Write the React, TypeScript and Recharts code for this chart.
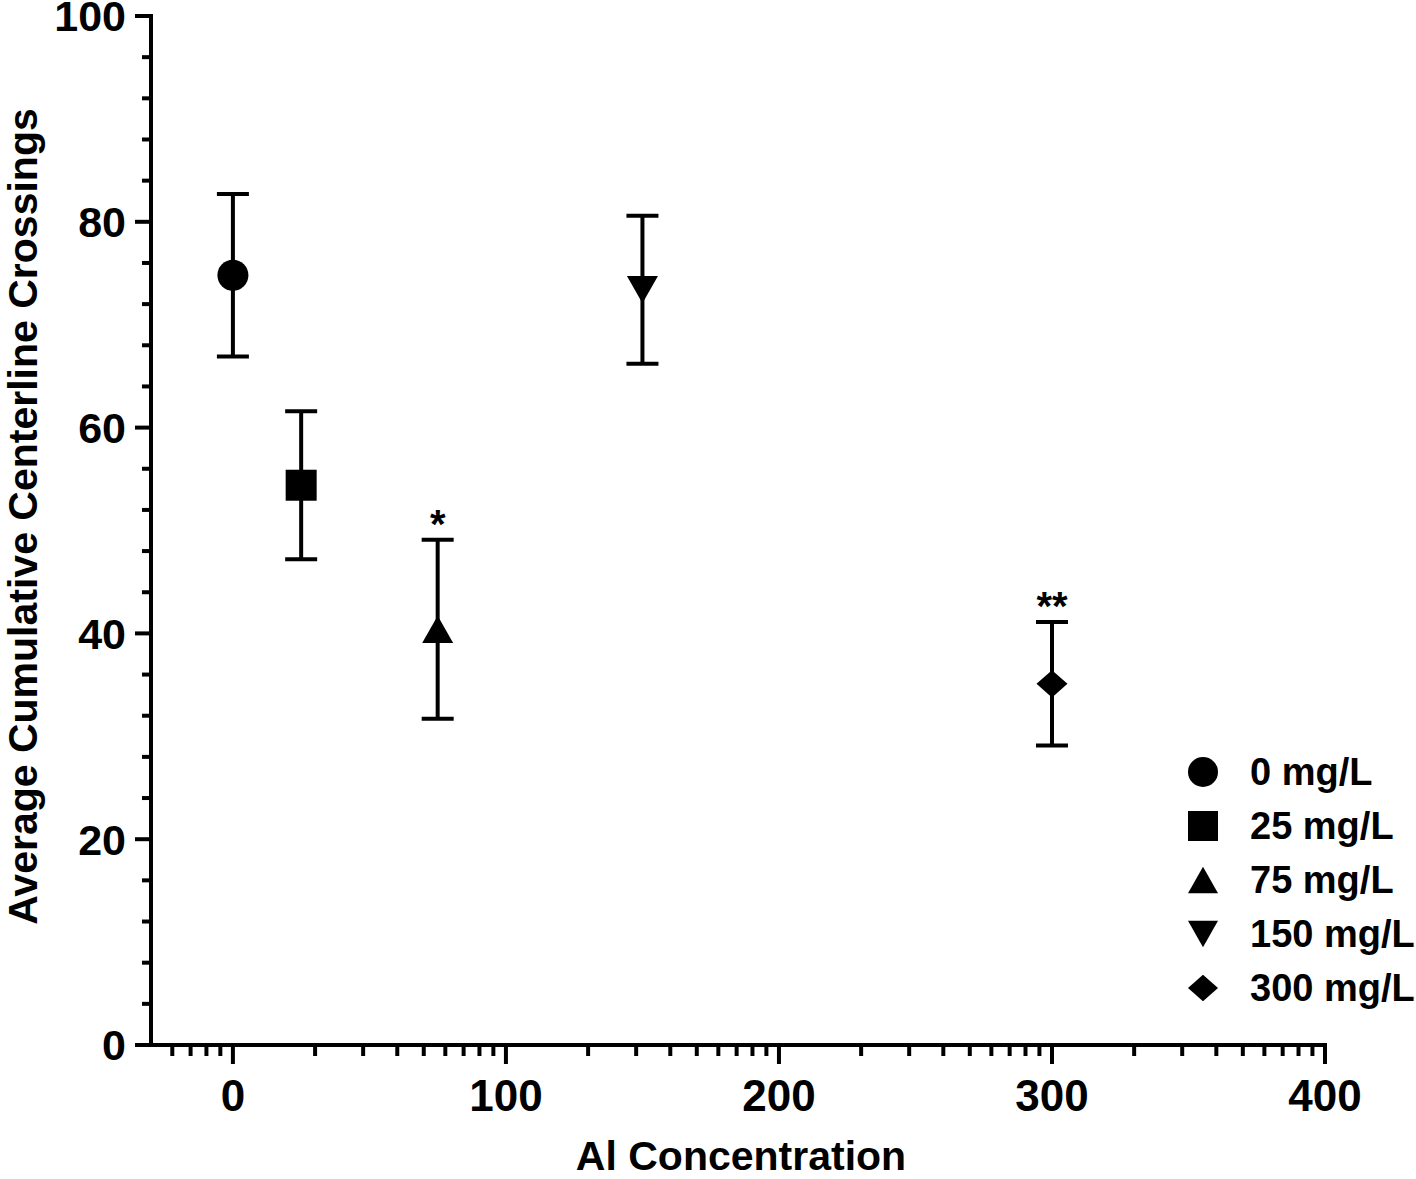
import React from 'react';
import { ScatterChart, Scatter, XAxis, YAxis, ErrorBar, Legend, ReferenceDot } from 'recharts';

const FONT = '"Liberation Sans", Arial, Helvetica, sans-serif';

// one group per Al concentration (mg/L)
const GROUPS = ['0 mg/L', '25 mg/L', '75 mg/L', '150 mg/L', '300 mg/L'];
const CONCENTRATIONS = [0, 25, 75, 150, 300];
const MEANS = [74.8, 54.4, 40.4, 73.4, 35.1];
const SEMS = [7.9, 7.2, 8.7, 7.2, 6.0];
const SIGNIFICANCE = ['', '', '*', '', '**'];
const SHAPES = ['circle', 'square', 'triangle', 'triangleDown', 'diamond'];

const X_MAJOR_TICKS = [0, 100, 200, 300, 400];
// log10(2..9) * 100, the odd minor ticks Prism put on this axis
const X_MINOR_STEPS = [30.1, 47.7, 60.2, 69.9, 77.8, 84.5, 90.3, 95.4];
const X_DOMAIN: [number, number] = [-30, 400];
const Y_MAJOR_TICKS = [0, 20, 40, 60, 80, 100];
const Y_MINOR_STEP = 4;

const xTicks: number[] = [...X_MAJOR_TICKS];
[-100, 0, 100, 200, 300].forEach((base) => {
  X_MINOR_STEPS.forEach((s) => {
    const v = base + s;
    if (v > X_DOMAIN[0] && v < X_DOMAIN[1]) xTicks.push(v);
  });
});
xTicks.sort((a, b) => a - b);

const yTicks: number[] = [];
for (let v = 0; v <= 100; v += Y_MINOR_STEP) yTicks.push(v);

function Marker({ shape, cx, cy, size = 31 }: { shape: string; cx: number; cy: number; size?: number }) {
  const h = size / 2;
  const t = size * 0.44;
  switch (shape) {
    case 'circle':
      return <circle cx={cx} cy={cy} r={h} fill="#000" />;
    case 'square':
      return <rect x={cx - h} y={cy - h} width={size} height={size} fill="#000" />;
    case 'triangle':
      return <polygon points={`${cx},${cy - t} ${cx + h},${cy + t} ${cx - h},${cy + t}`} fill="#000" />;
    case 'triangleDown':
      return <polygon points={`${cx},${cy + t} ${cx + h},${cy - t} ${cx - h},${cy - t}`} fill="#000" />;
    default:
      return <polygon points={`${cx},${cy - t} ${cx + h},${cy} ${cx},${cy + t} ${cx - h},${cy}`} fill="#000" />;
  }
}

const XTick = (props: any) => {
  const { x, y, payload } = props;
  const major = X_MAJOR_TICKS.includes(payload.value);
  return (
    <g>
      <line x1={x} x2={x} y1={y} y2={y + (major ? 19 : 11)} stroke="#000" strokeWidth={4} />
      {major && (
        <text x={x} y={y + 66} textAnchor="middle" fontFamily={FONT} fontWeight={700} fontSize={44} fill="#000">
          {payload.value}
        </text>
      )}
    </g>
  );
};

const YTick = (props: any) => {
  const { x, y, payload } = props;
  const major = Y_MAJOR_TICKS.includes(payload.value);
  return (
    <g>
      <line x1={x} x2={x - (major ? 16 : 9)} y1={y} y2={y} stroke="#000" strokeWidth={4} />
      {major && (
        <text x={x - 25} y={y} dy="0.36em" textAnchor="end" fontFamily={FONT} fontWeight={700} fontSize={43} fill="#000">
          {payload.value}
        </text>
      )}
    </g>
  );
};

const XTitle = (props: any) => {
  const vb = props.viewBox || { x: 151, y: 1045, width: 1174, height: 134 };
  return (
    <text x={vb.x + vb.width / 2 + 3} y={vb.y + 125} textAnchor="middle" fontFamily={FONT} fontWeight={700} fontSize={41} fill="#000">
      Al Concentration
    </text>
  );
};

const YTitle = (props: any) => {
  const vb = props.viewBox || { x: 0, y: 16, width: 151, height: 1029 };
  const x = vb.x + 37;
  const y = vb.y + vb.height / 2 - 14;
  return (
    <text x={x} y={y} transform={`rotate(-90 ${x} ${y})`} textAnchor="middle" fontFamily={FONT} fontWeight={700} fontSize={41} fill="#000">
      Average Cumulative Centerline Crossings
    </text>
  );
};

const SigLabel = (props: any) => {
  const { viewBox, text } = props;
  const cx = viewBox.x + viewBox.width / 2;
  const cy = viewBox.y + viewBox.height / 2;
  return (
    <text x={cx} y={cy - 2} textAnchor="middle" fontFamily={FONT} fontWeight={700} fontSize={40} fill="#000">
      {text}
    </text>
  );
};

const renderLegend = () => (
  <div style={{ fontFamily: FONT, fontWeight: 700, fontSize: 38, color: '#000', whiteSpace: 'nowrap' }}>
    {GROUPS.map((name, i) => (
      <div key={name} style={{ display: 'flex', alignItems: 'center', height: 54 }}>
        <svg width={40} height={40} style={{ display: 'block' }}>
          <Marker shape={SHAPES[i]} cx={20} cy={20} size={30} />
        </svg>
        <span style={{ marginLeft: 27, lineHeight: 1 }}>{name}</span>
      </div>
    ))}
  </div>
);

export default function App() {
  return (
    <div style={{ position: 'absolute', left: 0, top: 0, width: 1416, height: 1179, background: '#fff' }}>
      <ScatterChart width={1416} height={1179} margin={{ top: 16, right: 91, bottom: 0, left: 0 }}>
        <XAxis
          type="number"
          dataKey="x"
          domain={X_DOMAIN}
          ticks={xTicks}
          interval={0}
          height={134}
          tickLine={false}
          tickSize={0}
          tickMargin={0}
          tick={<XTick />}
          axisLine={{ stroke: '#000', strokeWidth: 4, strokeLinecap: 'square' }}
          label={<XTitle />}
        />
        <YAxis
          type="number"
          dataKey="y"
          domain={[0, 100]}
          ticks={yTicks}
          interval={0}
          width={151}
          tickLine={false}
          tickSize={0}
          tickMargin={0}
          tick={<YTick />}
          axisLine={{ stroke: '#000', strokeWidth: 4, strokeLinecap: 'square' }}
          label={<YTitle />}
        />
        {GROUPS.map((name, i) => (
          <Scatter
            key={name}
            name={name}
            data={[{ x: CONCENTRATIONS[i], y: MEANS[i], err: SEMS[i] }]}
            fill="#000"
            isAnimationActive={false}
            shape={(p: any) => <Marker shape={SHAPES[i]} cx={p.cx} cy={p.cy} />}
          >
            <ErrorBar dataKey="err" direction="y" width={16} stroke="#000" strokeWidth={4} isAnimationActive={false} />
          </Scatter>
        ))}
        {SIGNIFICANCE.map((s, i) =>
          s ? (
            <ReferenceDot
              key={'sig' + i}
              x={CONCENTRATIONS[i]}
              y={MEANS[i] + SEMS[i]}
              r={0}
              fill="none"
              stroke="none"
              ifOverflow="visible"
              label={<SigLabel text={s} />}
            />
          ) : null
        )}
        <Legend
          content={renderLegend}
          layout="vertical"
          align="center"
          verticalAlign="middle"
          wrapperStyle={{ left: 1183, top: 745 }}
        />
      </ScatterChart>
    </div>
  );
}
